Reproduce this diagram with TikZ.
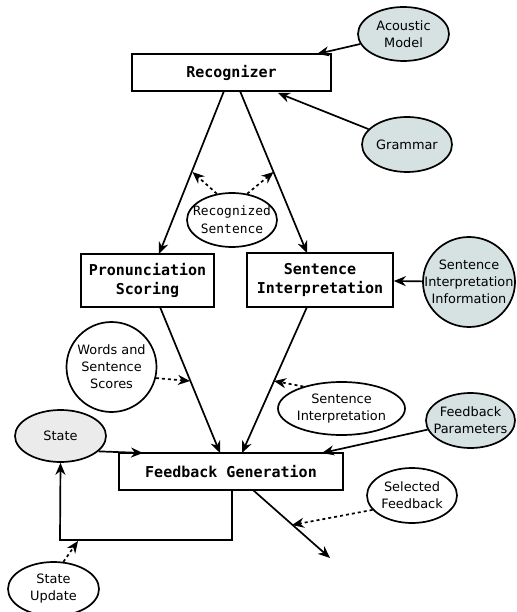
\documentclass[tikz,border=0pt]{standalone}
\usepackage{fontspec}
\setmainfont{DejaVu Sans}
\newfontfamily\monofam{DejaVu Sans Mono}
\usetikzlibrary{shapes.geometric,arrows.meta}
\definecolor{bluegrey}{HTML}{D5E2E1}
\definecolor{lightgrey}{HTML}{EBEBEB}
\tikzset{
  procbox/.style={draw,line width=1.7pt,fill=white,inner sep=0pt,align=center,
    font=\monofam\bfseries\fontsize{15}{18.5}\selectfont},
  dataell/.style={draw,line width=1.7pt,ellipse,inner sep=0pt},
  elltext/.style={label={[align=center,inner sep=0pt,font=\fontsize{12.9}{17}\selectfont]center:#1}},
  monotext/.style={label={[align=center,inner sep=0pt,font=\monofam\fontsize{12.9}{18}\selectfont]center:#1}},
  flow/.style={line width=1.7pt,-{Stealth[length=12pt,width=10pt]}},
  dflow/.style={line width=1.7pt,dash pattern=on 3pt off 3pt,-{Stealth[length=12pt,width=10pt]}},
}
\begin{document}
\begin{tikzpicture}[x=1pt,y=-1pt]
\useasboundingbox (0,0) rectangle (516,612);
\clip (0,0) rectangle (516,612);
% boxes
\node[procbox,minimum width=199pt,minimum height=37pt] (rec) at (231.5,72.5) {Recognizer};
\node[procbox,minimum width=133pt,minimum height=53pt] (pron) at (147.5,280.5) {Pronunciation\\Scoring};
\node[procbox,minimum width=146pt,minimum height=54pt] (sint) at (320,280) {Sentence\\Interpretation};
\node[procbox,minimum width=224pt,minimum height=37pt] (fb) at (231,471.5) {Feedback Generation};
% ellipses
\node[dataell,fill=bluegrey,minimum width=91pt,minimum height=54pt,elltext={Acoustic\\Model}] (am) at (403.5,34) {};
\node[dataell,fill=bluegrey,minimum width=90pt,minimum height=55pt,elltext={Grammar}] (gram) at (407,144.5) {};
\node[dataell,fill=bluegrey,minimum width=92pt,minimum height=90pt,elltext={Sentence\\Interpretation\\Information}] (sii) at (469,282) {};
\node[dataell,minimum width=90pt,minimum height=54pt,monotext={Recognized\\Sentence}] (rs) at (232,220) {};
\node[dataell,minimum width=90pt,minimum height=90pt,elltext={Words and\\Sentence\\Scores}] (ws) at (111.5,367) {};
\node[dataell,minimum width=127pt,minimum height=53pt,elltext={Sentence\\Interpretation}] (si) at (341.5,408.5) {};
\node[dataell,fill=bluegrey,minimum width=89pt,minimum height=55pt,elltext={Feedback\\Parameters}] (fp) at (470.5,420.5) {};
\node[dataell,fill=lightgrey,minimum width=91pt,minimum height=52pt,elltext={State}] (st) at (60.5,436) {};
\node[dataell,minimum width=91pt,minimum height=54pt,elltext={State\\Update}] (su) at (53.5,589) {};
\node[dataell,minimum width=90pt,minimum height=55pt,elltext={Selected\\Feedback}] (sf) at (412,495.5) {};
% coordinates
\coordinate (recL) at (224,91);
\coordinate (recR) at (240,91);
\coordinate (pronT) at (159,254);
\coordinate (sintT) at (307,253);
\coordinate (mL) at (192.5,172);
\coordinate (mR) at (273.5,172);
\coordinate (pronB) at (160,307);
\coordinate (sintB) at (307,307);
\coordinate (fbT1) at (220,453);
\coordinate (fbT2) at (242,453);
\coordinate (mW) at (190,381);
\coordinate (mS) at (274,381);
\coordinate (fbB) at (232,490);
\coordinate (loop1) at (232,540);
\coordinate (loop2) at (60,540);
\coordinate (mSU) at (78,541);
\coordinate (fbO) at (253,490);
\coordinate (outE) at (330,558);
\coordinate (mO) at (292,525);
% connectors
\draw[flow] (am) -- (317,54);
\draw[flow] (gram) -- (278,93);
\draw[flow] (recL) -- (pronT);
\draw[flow] (recR) -- (sintT);
\draw[dflow] (rs.120) -- (mL);
\draw[dflow] (rs.60) -- (mR);
\draw[flow] (sii) -- (sint);
\draw[flow] (pronB) -- (fbT1);
\draw[flow] (sintB) -- (fbT2);
\draw[dflow] (ws.-14) -- (mW);
\draw[dflow] (si.150) -- (mS);
\draw[flow] (fp.192) -- (322,453);
\draw[flow] (st.-22) -- (143,453);
\draw[flow] (fbB) -- (loop1) -- (loop2) -- (st.south);
\draw[dflow] (su.70) -- (mSU);
\draw[flow] (fbO) -- (outE);
\draw[dflow] (sf.200) -- (mO);
\end{tikzpicture}
\end{document}
